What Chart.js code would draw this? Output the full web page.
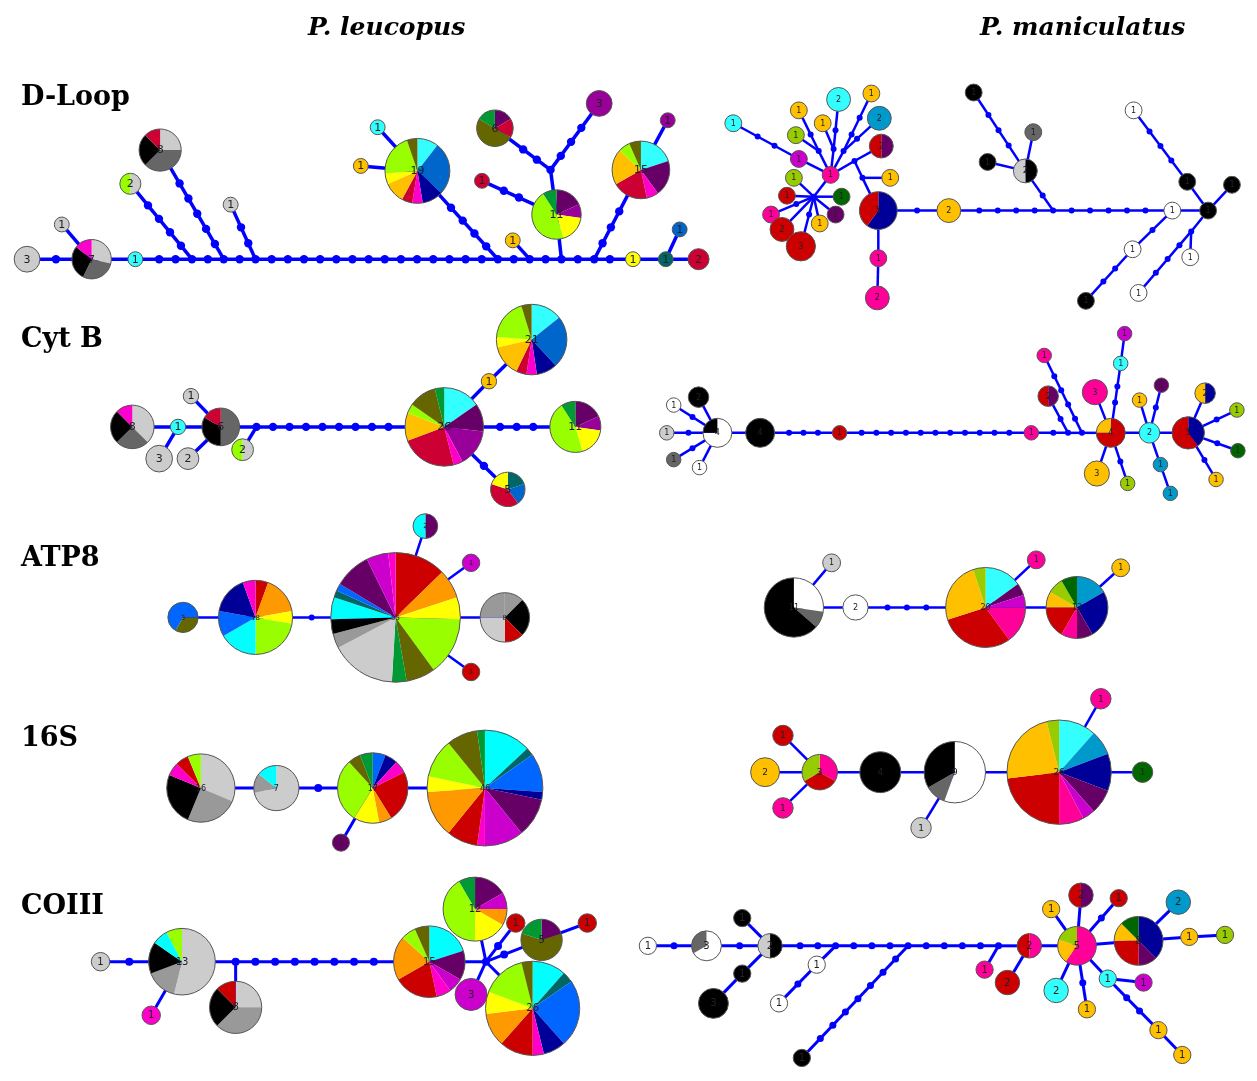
<!DOCTYPE html>
<html>
<head>
<meta charset="utf-8">
<script src="https://cdn.jsdelivr.net/npm/chart.js@4.4.1/dist/chart.umd.min.js"></script>
<style>
  body { margin: 0; background: #fff; }
  #wrap { position: relative; width: 1257px; height: 1081px; }
  .gene { position: absolute; left: 21px; font-family: "DejaVu Serif"; font-weight: bold; font-size: 27px; line-height: 27px; white-space: nowrap; }
  .species { position: absolute; top: 14px; font-family: "DejaVu Serif"; font-weight: bold; font-style: italic; font-size: 25px; line-height: 25px; white-space: nowrap; }
</style>
</head>
<body>
<div id="wrap">
  <canvas id="myChart"></canvas>
</div>
<script>
// titles
const geneNames = ["D-Loop", "Cyt B", "ATP8", "16S", "COIII"];
const speciesNames = ["P. leucopus", "P. maniculatus"];

// population colours used in the pies
const palette = {
  lg: "#cccccc", mg: "#999999", dg: "#666666", bk: "#000000", wh: "#ffffff",
  mag: "#ff00cc", pk: "#ff0099", cr: "#cc0033", rd: "#cc0000",
  lime: "#99ff00", yg: "#99cc00", dgn: "#009933", fgn: "#006600", ol: "#666600",
  cy: "#33ffff", cy2: "#00ffff", bl: "#0066cc", bl2: "#0066ff", nv: "#000099",
  gd: "#ffc000", or: "#ff9900", ye: "#ffff00", pu: "#990099", dpu: "#660066",
  vi: "#cc00cc", tl: "#006666", ce: "#0099cc"
};

// node: [id, x, y, [[population, count], ...]]  (empty list = median vector)
// edge: [from, to, mutation steps]

// D-Loop, P. leucopus
const dloopLeftNodes = [
  ["a", 23, 257, [["lg", 3]]],
  ["b", 88, 257, [["lg", 2], ["dg", 2], ["bk", 2], ["mag", 1]]],
  ["c", 58, 222, [["lg", 1]]],
  ["d", 132, 257, [["cy", 1]]],
  ["e", 127, 181, [["lg", 1], ["lime", 1]]],
  ["f", 157, 147, [["lg", 2], ["dg", 3], ["bk", 2], ["cr", 1]]],
  ["g", 228, 202, [["lg", 1]]],
  ["h", 416, 168, [["cy", 2], ["bl", 5], ["nv", 2], ["mag", 1], ["cr", 1], ["gd", 2], ["ye", 1], ["lime", 4], ["ol", 1]]],
  ["i", 376, 124, [["cy", 1]]],
  ["j", 359, 163, [["gd", 1]]],
  ["k", 512, 238, [["gd", 1]]],
  ["l", 556, 212, [["dpu", 2], ["pu", 1], ["ye", 2], ["lime", 5], ["dgn", 1]]],
  ["m", 494, 125, [["dpu", 1], ["cr", 1], ["ol", 3], ["dgn", 1]]],
  ["n", 599, 100, [["pu", 3]]],
  ["o", 481, 178, [["cr", 1]]],
  ["p", 641, 167, [["cy", 3], ["dpu", 3], ["mag", 1], ["cr", 3], ["gd", 3], ["lime", 1], ["ol", 1]]],
  ["q", 668, 117, [["pu", 1]]],
  ["r", 633, 257, [["ye", 1]]],
  ["s", 666, 257, [["tl", 1]]],
  ["t", 699, 257, [["cr", 2]]],
  ["u", 680, 227, [["bl", 1]]],
  ["J1", 189, 257, []], ["J2", 221, 257, []], ["J3", 253, 257, []], ["J4", 497, 257, []],
  ["J5", 529, 257, []], ["J6", 561, 257, []], ["J7", 594, 257, []], ["J8", 550, 167, []]
];
const dloopLeftEdges = [
  ["a", "b", 1], ["c", "b", 0], ["b", "d", 0], ["d", "J1", 2], ["J1", "J2", 1], ["J2", "J3", 1],
  ["J3", "J4", 14], ["J4", "J5", 1], ["J5", "J6", 1], ["J6", "J7", 1], ["J7", "r", 1], ["r", "s", 0],
  ["s", "t", 0], ["s", "u", 0], ["J1", "e", 4], ["J2", "f", 5], ["J3", "g", 2], ["J4", "h", 4],
  ["i", "h", 0], ["j", "h", 0], ["J5", "k", 0], ["J6", "l", 0], ["l", "J8", 0], ["J8", "m", 2],
  ["J8", "n", 3], ["o", "l", 2], ["J7", "p", 3], ["q", "p", 0]
];

// D-Loop, P. maniculatus
const dloopRightNodes = [
  ["a", 734, 120, [["cy", 1]]],
  ["b", 800, 156, [["vi", 1]]],
  ["c", 832, 172, [["pk", 1]]],
  ["d", 800, 107, [["gd", 1]]],
  ["e", 797, 132, [["yg", 1]]],
  ["f", 824, 120, [["gd", 1]]],
  ["g", 840, 96, [["cy", 2]]],
  ["h", 873, 90, [["gd", 1]]],
  ["i", 881, 115, [["ce", 2]]],
  ["j", 883, 143, [["dpu", 1], ["rd", 1]]],
  ["k", 892, 175, [["gd", 1]]],
  ["l", 795, 175, [["yg", 1]]],
  ["m", 788, 193, [["rd", 1]]],
  ["n", 843, 194, [["fgn", 1]]],
  ["o", 772, 212, [["pk", 1]]],
  ["p", 837, 212, [["dpu", 1]]],
  ["q", 821, 221, [["gd", 1]]],
  ["r", 783, 227, [["rd", 2]]],
  ["s", 802, 244, [["rd", 3]]],
  ["t", 880, 208, [["nv", 3], ["rd", 2]]],
  ["u", 880, 256, [["pk", 1]]],
  ["v", 879, 296, [["pk", 2]]],
  ["w", 951, 208, [["gd", 2]]],
  ["x", 1028, 168, [["bk", 1], ["lg", 1]]],
  ["y", 976, 89, [["bk", 1]]],
  ["z", 990, 159, [["bk", 1]]],
  ["A", 1036, 129, [["dg", 1]]],
  ["B", 1176, 208, [["wh", 1]]],
  ["C", 1212, 208, [["bk", 1]]],
  ["D", 1137, 107, [["wh", 1]]],
  ["E", 1191, 179, [["bk", 1]]],
  ["F", 1236, 182, [["bk", 1]]],
  ["G", 1136, 247, [["wh", 1]]],
  ["H", 1089, 299, [["bk", 1]]],
  ["I", 1142, 291, [["wh", 1]]],
  ["K", 1194, 255, [["wh", 1]]],
  ["Ja", 820, 148, []], ["Jb", 835, 146, []], ["Jc", 845, 148, []], ["Jd", 856, 158, []],
  ["Je", 864, 175, []], ["Jf", 815, 194, []], ["Jm", 1056, 208, []], ["Jg", 1195, 229, []]
];
const dloopRightEdges = [
  ["a", "b", 2], ["b", "c", 0], ["d", "Ja", 1], ["e", "Ja", 0], ["Ja", "c", 0], ["g", "Jb", 1],
  ["f", "Jb", 0], ["Jb", "c", 0], ["h", "Jc", 2], ["i", "Jc", 1], ["Jc", "c", 0], ["j", "Jd", 0],
  ["Jd", "c", 0], ["Jd", "Je", 0], ["k", "Je", 0], ["Je", "t", 0],
  ["c", "Jf", 0], ["l", "Jf", 0], ["m", "Jf", 0], ["n", "Jf", 0], ["o", "Jf", 1], ["p", "Jf", 0],
  ["q", "Jf", 0], ["r", "Jf", 0], ["s", "Jf", 1],
  ["t", "u", 0], ["u", "v", 0], ["t", "w", 1], ["w", "Jm", 4], ["Jm", "B", 5], ["B", "C", 0],
  ["x", "Jm", 1], ["y", "x", 3], ["z", "x", 0], ["A", "x", 0],
  ["D", "E", 3], ["E", "C", 0], ["F", "C", 0], ["G", "B", 1], ["G", "H", 2], ["C", "Jg", 0],
  ["Jg", "I", 3], ["Jg", "K", 0]
];

// Cyt B, P. leucopus
const cytbLeftNodes = [
  ["a", 129, 426, [["lg", 3], ["dg", 2], ["bk", 2], ["mag", 1]]],
  ["b", 175, 426, [["cy", 1]]],
  ["c", 156, 458, [["lg", 3]]],
  ["d", 218, 426, [["dg", 3], ["bk", 2], ["cr", 1]]],
  ["e", 188, 395, [["lg", 1]]],
  ["f", 185, 458, [["lg", 2]]],
  ["g", 240, 449, [["lg", 1], ["lime", 1]]],
  ["h", 443, 426, [["cy", 4], ["dpu", 3], ["pu", 4], ["mag", 1], ["cr", 6], ["gd", 3], ["lime", 1], ["ol", 3], ["dgn", 1]]],
  ["i", 488, 380, [["gd", 1]]],
  ["j", 531, 338, [["cy", 3], ["bl", 5], ["nv", 2], ["mag", 1], ["cr", 1], ["gd", 3], ["ye", 1], ["lime", 4], ["ol", 1]]],
  ["k", 575, 426, [["dpu", 2], ["pu", 1], ["ye", 2], ["lime", 5], ["dgn", 1]]],
  ["l", 507, 489, [["tl", 1], ["bl", 1], ["cr", 2], ["ye", 1]]],
  ["J", 254, 426, []]
];
const cytbLeftEdges = [
  ["a", "b", 0], ["b", "c", 0], ["b", "d", 0], ["e", "d", 0], ["f", "d", 0], ["d", "J", 0],
  ["g", "J", 0], ["J", "h", 8], ["h", "i", 0], ["i", "j", 0], ["h", "k", 3], ["h", "l", 1]
];

// Cyt B, P. maniculatus
const cytbRightNodes = [
  ["a", 718, 432, [["wh", 3], ["bk", 1]]],
  ["b", 674, 404, [["wh", 1]]],
  ["c", 667, 432, [["lg", 1]]],
  ["d", 674, 459, [["dg", 1]]],
  ["e", 700, 467, [["wh", 1]]],
  ["f", 699, 396, [["bk", 2]]],
  ["g", 761, 432, [["bk", 4]]],
  ["h", 841, 432, [["rd", 1]]],
  ["i", 1034, 432, [["pk", 1]]],
  ["j", 1051, 395, [["dpu", 1], ["rd", 1]]],
  ["k", 1047, 354, [["pk", 1]]],
  ["l", 1114, 432, [["rd", 3], ["gd", 1]]],
  ["m", 1098, 391, [["pk", 3]]],
  ["n", 1100, 473, [["gd", 3]]],
  ["o", 1124, 362, [["cy", 1]]],
  ["p", 1128, 332, [["vi", 1]]],
  ["q", 1131, 483, [["yg", 1]]],
  ["r", 1153, 432, [["cy", 2]]],
  ["s", 1143, 399, [["gd", 1]]],
  ["t", 1165, 384, [["dpu", 1]]],
  ["u", 1164, 464, [["ce", 1]]],
  ["v", 1174, 493, [["ce", 1]]],
  ["w", 1192, 432, [["nv", 2], ["rd", 3]]],
  ["x", 1209, 392, [["nv", 1], ["gd", 1]]],
  ["y", 1241, 409, [["yg", 1]]],
  ["z", 1242, 450, [["fgn", 1]]],
  ["A", 1220, 479, [["gd", 1]]],
  ["Ja", 1071, 432, []], ["Jb", 1085, 432, []]
];
const cytbRightEdges = [
  ["b", "a", 1], ["c", "a", 1], ["d", "a", 1], ["e", "a", 0], ["f", "a", 0], ["a", "g", 0],
  ["g", "h", 3], ["h", "i", 11], ["i", "Ja", 1], ["Ja", "Jb", 0], ["Jb", "l", 0], ["j", "Ja", 1],
  ["k", "Jb", 4], ["m", "l", 0], ["n", "l", 0], ["o", "l", 2], ["p", "o", 0], ["q", "l", 1],
  ["l", "r", 0], ["s", "r", 0], ["t", "r", 1], ["u", "r", 0], ["u", "v", 0], ["r", "w", 0],
  ["x", "w", 0], ["y", "w", 1], ["z", "w", 1], ["A", "w", 1]
];

// ATP8, P. leucopus
const atp8LeftNodes = [
  ["a", 180, 618, [["bl2", 0.75], ["ol", 1], ["bl2", 1.25]]],
  ["b", 253, 618, [["rd", 1], ["or", 3], ["ye", 1], ["lime", 4], ["cy2", 3], ["bl2", 2], ["nv", 3], ["mag", 1]]],
  ["c", 394, 618, [["rd", 7], ["or", 4], ["ye", 3], ["lime", 8], ["ol", 4], ["dgn", 2], ["lg", 9], ["mg", 2], ["bk", 2], ["cy2", 3], ["tl", 1], ["bl2", 1], ["dpu", 5], ["vi", 3], ["mag", 1]]],
  ["d", 424, 526, [["dpu", 1], ["cy2", 1]]],
  ["e", 470, 563, [["vi", 1]]],
  ["f", 470, 673, [["rd", 1]]],
  ["g", 504, 618, [["mg", 1], ["bk", 2], ["rd", 1], ["lg", 2], ["mg", 2]]]
];
const atp8LeftEdges = [
  ["a", "b", 0], ["b", "c", 1], ["c", "d", 0], ["c", "e", 0], ["c", "f", 0], ["c", "g", 0]
];

// ATP8, P. maniculatus
const atp8RightNodes = [
  ["a", 795, 608, [["wh", 3], ["dg", 1], ["bk", 7]]],
  ["b", 833, 563, [["lg", 1]]],
  ["c", 857, 608, [["wh", 2]]],
  ["d", 988, 608, [["cy", 3], ["dpu", 1], ["vi", 1], ["pk", 3], ["rd", 6], ["gd", 5], ["yg", 1]]],
  ["e", 1039, 560, [["pk", 1]]],
  ["f", 1080, 608, [["ce", 2], ["nv", 3], ["dpu", 1], ["pk", 1], ["rd", 2], ["gd", 1], ["yg", 1], ["fgn", 1]]],
  ["g", 1124, 568, [["gd", 1]]]
];
const atp8RightEdges = [
  ["a", "b", 0], ["a", "c", 0], ["c", "d", 3], ["d", "e", 0], ["d", "f", 0], ["f", "g", 0]
];

// 16S, P. leucopus
const s16LeftNodes = [
  ["a", 198, 790, [["lg", 5], ["mg", 4], ["bk", 4], ["mag", 1], ["rd", 1], ["lime", 1]]],
  ["b", 274, 790, [["lg", 5], ["mg", 1], ["cy2", 1]]],
  ["c", 371, 790, [["bl2", 1], ["nv", 1], ["mag", 1], ["rd", 4], ["or", 1], ["ye", 2], ["lime", 5], ["ol", 1], ["dgn", 1]]],
  ["d", 339, 845, [["dpu", 1]]],
  ["e", 484, 790, [["cy2", 6], ["tl", 1], ["bl2", 5], ["nv", 1], ["dpu", 5], ["vi", 5], ["mag", 1], ["rd", 4], ["or", 6], ["ye", 2], ["lime", 5], ["ol", 4], ["dgn", 1]]]
];
const s16LeftEdges = [
  ["a", "b", 0], ["b", "c", 1], ["c", "d", 0], ["c", "e", 0]
];

// 16S, P. maniculatus
const s16RightNodes = [
  ["a", 766, 774, [["gd", 2]]],
  ["b", 784, 737, [["rd", 1]]],
  ["c", 784, 810, [["pk", 1]]],
  ["d", 821, 774, [["pk", 1], ["rd", 1], ["yg", 1]]],
  ["e", 882, 774, [["bk", 4]]],
  ["f", 957, 774, [["wh", 5], ["dg", 1], ["bk", 3]]],
  ["g", 923, 830, [["lg", 1]]],
  ["h", 1062, 774, [["cy", 3], ["ce", 2], ["nv", 3], ["dpu", 2], ["vi", 1], ["pk", 2], ["rd", 6], ["gd", 6], ["yg", 1]]],
  ["i", 1104, 700, [["pk", 1]]],
  ["j", 1146, 774, [["fgn", 1]]]
];
const s16RightEdges = [
  ["a", "d", 0], ["b", "d", 0], ["c", "d", 0], ["d", "e", 0], ["e", "f", 0], ["g", "f", 0],
  ["f", "h", 0], ["h", "i", 0], ["h", "j", 0]
];

// COIII, P. leucopus
const coiiiLeftNodes = [
  ["a", 97, 965, [["lg", 1]]],
  ["b", 179, 965, [["lg", 7], ["mg", 2], ["bk", 2], ["cy2", 1], ["lime", 1]]],
  ["c", 148, 1019, [["mag", 1]]],
  ["d", 233, 1011, [["lg", 2], ["mg", 3], ["bk", 2], ["rd", 1]]],
  ["e", 428, 965, [["cy2", 3], ["dpu", 2], ["vi", 1], ["mag", 1], ["rd", 3], ["or", 3], ["lime", 1], ["ol", 1]]],
  ["f", 474, 912, [["dpu", 2], ["vi", 1], ["or", 1], ["ye", 2], ["lime", 5], ["dgn", 1]]],
  ["g", 515, 926, [["rd", 1]]],
  ["h", 541, 943, [["dpu", 1], ["ol", 3], ["dgn", 1]]],
  ["i", 587, 926, [["rd", 1]]],
  ["j", 470, 998, [["vi", 3]]],
  ["k", 532, 1012, [["cy2", 3], ["tl", 1], ["bl2", 6], ["nv", 2], ["mag", 1], ["rd", 3], ["or", 3], ["ye", 2], ["lime", 4], ["ol", 1]]],
  ["J1", 233, 965, []], ["J2", 485, 965, []]
];
const coiiiLeftEdges = [
  ["a", "b", 1], ["b", "c", 0], ["b", "J1", 0], ["J1", "d", 0], ["J1", "e", 7], ["e", "J2", 0],
  ["J2", "f", 0], ["J2", "g", 1], ["J2", "h", 1], ["h", "i", 0], ["J2", "j", 0], ["J2", "k", 0]
];

// COIII, P. maniculatus
const coiiiRightNodes = [
  ["a", 648, 949, [["wh", 1]]],
  ["b", 707, 949, [["wh", 2], ["dg", 1]]],
  ["c", 771, 949, [["bk", 1], ["lg", 1]]],
  ["d", 743, 921, [["bk", 1]]],
  ["e", 743, 977, [["bk", 1]]],
  ["f", 714, 1007, [["bk", 3]]],
  ["g", 818, 968, [["wh", 1]]],
  ["h", 780, 1007, [["wh", 1]]],
  ["i", 803, 1062, [["bk", 1]]],
  ["j", 987, 973, [["pk", 1]]],
  ["k", 1032, 949, [["pk", 1], ["rd", 1]]],
  ["l", 1010, 986, [["rd", 2]]],
  ["m", 1080, 949, [["pk", 3], ["gd", 1], ["yg", 1]]],
  ["n", 1054, 912, [["gd", 1]]],
  ["o", 1084, 898, [["dpu", 1], ["rd", 1]]],
  ["p", 1122, 901, [["rd", 1]]],
  ["q", 1059, 994, [["cy", 2]]],
  ["r", 1090, 1013, [["gd", 1]]],
  ["s", 1111, 982, [["cy", 1]]],
  ["t", 1147, 986, [["vi", 1]]],
  ["u", 1162, 1034, [["gd", 1]]],
  ["v", 1186, 1059, [["gd", 1]]],
  ["w", 1142, 944, [["nv", 3], ["dpu", 1], ["rd", 2], ["gd", 1], ["fgn", 1]]],
  ["x", 1182, 905, [["ce", 2]]],
  ["y", 1193, 940, [["gd", 1]]],
  ["z", 1229, 938, [["yg", 1]]],
  ["J1", 837, 949, []], ["J2", 910, 949, []], ["J3", 1001, 949, []]
];
const coiiiRightEdges = [
  ["a", "b", 1], ["b", "c", 1], ["d", "c", 0], ["e", "c", 0], ["e", "f", 0], ["c", "J1", 2],
  ["g", "J1", 0], ["h", "g", 1], ["J1", "J2", 3], ["i", "J2", 7], ["J2", "J3", 4], ["j", "J3", 0],
  ["J3", "k", 0], ["l", "k", 0], ["k", "m", 0], ["n", "m", 0], ["o", "m", 0], ["p", "m", 1],
  ["q", "m", 0], ["r", "m", 1], ["s", "m", 0], ["t", "s", 0], ["u", "s", 2], ["u", "v", 0],
  ["m", "w", 0], ["x", "w", 0], ["y", "w", 0], ["y", "z", 0]
];

// drawing styles for each network: k = radius per sqrt(count)
const networks = [
  { nodes: dloopLeftNodes, edges: dloopLeftEdges, k: 7.5, lw: 3.5, dot: 4.2, font: 11 },
  { nodes: dloopRightNodes, edges: dloopRightEdges, k: 8.5, lw: 2.5, dot: 3, font: 8 },
  { nodes: cytbLeftNodes, edges: cytbLeftEdges, k: 7.75, lw: 3.5, dot: 4.2, font: 11 },
  { nodes: cytbRightNodes, edges: cytbRightEdges, k: 7.3, lw: 2.5, dot: 3, font: 8 },
  { nodes: atp8LeftNodes, edges: atp8LeftEdges, k: 8.8, lw: 2.5, dot: 3, font: 7 },
  { nodes: atp8RightNodes, edges: atp8RightEdges, k: 9, lw: 2.5, dot: 3, font: 8 },
  { nodes: s16LeftNodes, edges: s16LeftEdges, k: 8.6, lw: 3, dot: 4, font: 8 },
  { nodes: s16RightNodes, edges: s16RightEdges, k: 10.3, lw: 2.5, dot: 3, font: 9 },
  { nodes: coiiiLeftNodes, edges: coiiiLeftEdges, k: 9.3, lw: 3, dot: 4, font: 10 },
  { nodes: coiiiRightNodes, edges: coiiiRightEdges, k: 8.7, lw: 3, dot: 3.5, font: 10 }
];
const geneTops = [82, 324, 543, 723, 891];
const speciesLefts = [308, 980];
const BLUE = "#0000ff";

const wrap = document.getElementById("wrap");
geneNames.forEach((g, i) => {
  const d = document.createElement("div");
  d.className = "gene";
  d.style.top = geneTops[i] + "px";
  d.textContent = g;
  wrap.appendChild(d);
});
speciesNames.forEach((s, i) => {
  const d = document.createElement("div");
  d.className = "species";
  d.style.left = speciesLefts[i] + "px";
  d.textContent = s;
  wrap.appendChild(d);
});

const total = (n) => n[3].reduce((s, p) => s + p[1], 0);
const radius = (net, n) => (n[3].length ? net.k * Math.sqrt(total(n)) : 0);

const datasets = [];
networks.forEach((net) => {
  const byId = {};
  net.nodes.forEach((n) => (byId[n[0]] = n));
  const steps = [];
  net.edges.forEach(([a, b, s]) => {
    const A = byId[a], B = byId[b];
    datasets.push({
      type: "line",
      data: [{ x: A[1], y: A[2] }, { x: B[1], y: B[2] }],
      borderColor: BLUE,
      borderWidth: net.lw,
      pointRadius: 0,
      clip: false,
      order: 3,
    });
    // mutation steps spaced evenly between the two circles
    const dx = B[1] - A[1], dy = B[2] - A[2], len = Math.hypot(dx, dy);
    const ra = radius(net, A), rb = radius(net, B);
    const span = len - ra - rb;
    for (let i = 1; i <= s; i++) {
      const d = ra + (span * i) / (s + 1);
      steps.push({ x: A[1] + (dx * d) / len, y: A[2] + (dy * d) / len });
    }
  });
  net.nodes.filter((n) => !n[3].length).forEach((n) => steps.push({ x: n[1], y: n[2] }));
  datasets.push({
    type: "scatter",
    data: steps,
    pointRadius: net.dot,
    backgroundColor: BLUE,
    borderWidth: 0,
    clip: false,
    order: 2,
  });
  datasets.push({
    type: "scatter",
    data: net.nodes.filter((n) => n[3].length).map((n) => ({ x: n[1], y: n[2], r: radius(net, n), slices: n[3] })),
    pointRadius: 0,
    clip: false,
    order: 1,
    isPie: true,
    labelSize: net.font,
  });
});

const piePlugin = {
  id: "pies",
  afterDatasetsDraw(chart) {
    const ctx = chart.ctx;
    const xs = chart.scales.x;
    chart.data.datasets.forEach((ds, di) => {
      if (!ds.isPie) return;
      const meta = chart.getDatasetMeta(di);
      meta.data.forEach((el, i) => {
        const node = ds.data[i];
        const r = xs.getPixelForValue(node.x + node.r) - xs.getPixelForValue(node.x);
        const sum = node.slices.reduce((s, p) => s + p[1], 0);
        let a = -Math.PI / 2;
        node.slices.forEach(([c, v]) => {
          const b = a + (v / sum) * Math.PI * 2;
          ctx.beginPath();
          ctx.moveTo(el.x, el.y);
          ctx.arc(el.x, el.y, r, a, b);
          ctx.closePath();
          ctx.fillStyle = palette[c];
          ctx.fill();
          a = b;
        });
        ctx.beginPath();
        ctx.arc(el.x, el.y, r, 0, Math.PI * 2);
        ctx.lineWidth = 1;
        ctx.strokeStyle = "#555555";
        ctx.stroke();
        ctx.fillStyle = "#222222";
        ctx.font = ds.labelSize + 'px "DejaVu Sans"';
        ctx.textAlign = "center";
        ctx.textBaseline = "middle";
        ctx.fillText(String(Math.round(sum)), el.x, el.y + 0.5);
      });
    });
  },
};

const config = {
  type: "scatter",
  data: { datasets: datasets },
  options: {
    responsive: true,
    maintainAspectRatio: false,
    animation: false,
    events: [],
    layout: { padding: 0 },
    scales: {
      x: { type: "linear", min: 0, max: 1257, display: false },
      y: { type: "linear", min: 0, max: 1081, reverse: true, display: false },
    },
    plugins: { legend: { display: false }, tooltip: { enabled: false } },
  },
  plugins: [piePlugin],
};
const myChart = new Chart(document.getElementById("myChart"), config);
</script>
</body>
</html>
